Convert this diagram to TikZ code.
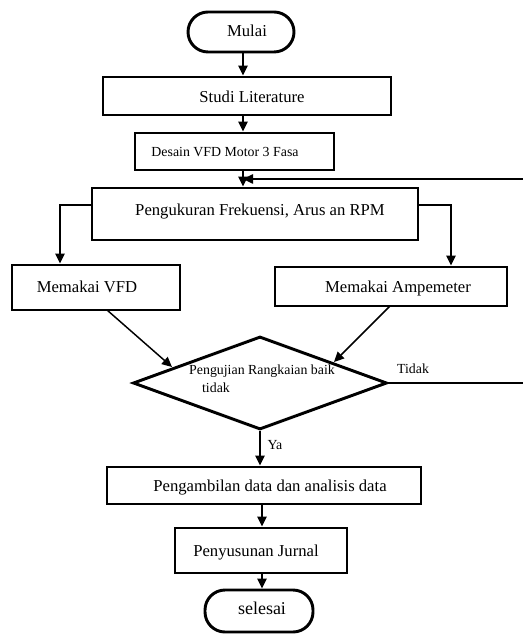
\documentclass[tikz,border=0pt]{standalone}
\usepackage{fontspec}
\setmainfont{Liberation Serif}
\usetikzlibrary{arrows.meta,shapes.geometric,fit}
\begin{document}
\begin{tikzpicture}[x=0.75pt,y=-0.75pt,
  box/.style={draw,line width=2.2pt,inner sep=0pt},
  term/.style={draw,line width=2.2pt,inner sep=0pt,rounded corners=15pt},
  txt/.style={inner sep=0pt,text height=1.6ex,text depth=0.4ex,font=\fontsize{12.5}{14}\selectfont},
  stxt/.style={inner sep=0pt,text height=1.6ex,text depth=0.4ex,font=\fontsize{10.4}{12}\selectfont},
  arr/.style={line width=1.1pt,-{Triangle[length=7.5pt,width=7pt]}},
  ln/.style={line width=1.1pt}]
\useasboundingbox (0,0) rectangle (523,634);
% boxes
\node[term,fit={(188,12) (294,52)}] (mulai) {};
\node[txt] (tmulai) at (247,33) {Mulai};
\node[box,fit={(103,77) (391,115)}] (studi) {};
\node[txt] (tstudi) at (252,99) {Studi Literature};
\node[box,fit={(135,133) (334,170)}] (desain) {};
\node[stxt] (tdesain) at (225,153) {Desain VFD Motor 3 Fasa};
\node[box,fit={(92,188) (418,240)}] (ukur) {};
\node[txt] (tukur) at (260,212) {Pengukuran Frekuensi, Arus an RPM};
\node[box,fit={(12,265) (180,310)}] (vfd) {};
\node[txt] (tvfd) at (87,289) {Memakai VFD};
\node[box,fit={(275,267) (507,306)}] (amp) {};
\node[txt] (tamp) at (398,289) {Memakai Ampemeter};
\node[draw,diamond,line width=2.2pt,inner sep=0pt,minimum width=254*0.75pt,minimum height=93*0.75pt] (uji) at (260,383) {};
\node[stxt] (tuji1) at (262,371) {Pengujian Rangkaian baik};
\node[stxt] (tuji2) at (216,389) {tidak};
\node[box,fit={(107,467) (421,504)}] (ambil) {};
\node[txt] (tambil) at (270,488) {Pengambilan data dan analisis data};
\node[box,fit={(175,528) (347,573)}] (susun) {};
\node[txt] (tsusun) at (256,553) {Penyusunan Jurnal};
\node[term,fit={(205,590) (313,632)}] (selesai) {};
\node[txt,font=\fontsize{13.5}{15}\selectfont] (tselesai) at (262,611) {selesai};
% labels
\node[stxt] (ltidak) at (413,370) {Tidak};
\node[stxt] (lya) at (275,446) {Ya};
% helper coordinates
\coordinate (ax) at (243,0);
\coordinate (bx) at (262,0);
\coordinate (redge) at (523,179);
\coordinate (redge2) at (523,383);
\coordinate (lx) at (60,205);
\coordinate (rx) at (451,205);
\coordinate (vfdout) at (107,310);
\coordinate (ampout) at (390,306);
\coordinate (ujiin1) at (172,367);
\coordinate (ujiin2) at (334,362);
% connectors
\draw[arr] (mulai.south -| ax) -- (studi.north -| ax);
\draw[arr] (studi.south -| ax) -- (desain.north -| ax);
\draw[arr] (desain.south -| ax) -- (ukur.north -| ax);
\draw[arr] (redge) -- (ax |- redge);
\draw[arr] (ukur.west |- lx) -- (lx) -- (lx |- vfd.north);
\draw[arr] (ukur.east |- rx) -- (rx) -- (rx |- amp.north);
\draw[arr] (vfdout) -- (ujiin1);
\draw[arr] (ampout) -- (ujiin2);
\draw[ln] (uji.east) -- (redge2);
\draw[arr] (uji.south) -- (ambil.north -| uji.south);
\draw[arr] (ambil.south -| bx) -- (susun.north -| bx);
\draw[arr] (susun.south -| bx) -- (selesai.north -| bx);
\end{tikzpicture}
\end{document}
